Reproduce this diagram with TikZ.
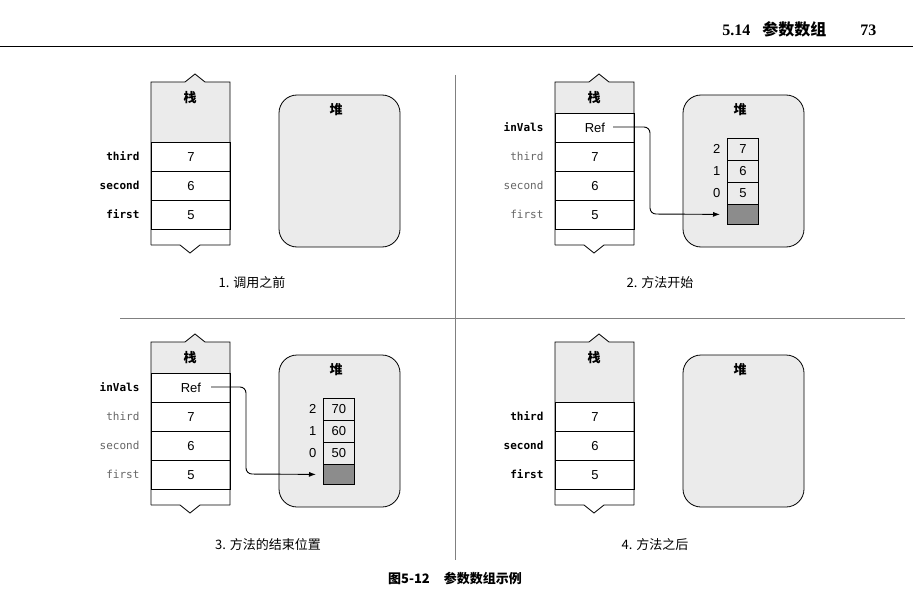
\documentclass[tikz,border=0pt]{standalone}
\usepackage{fontspec}
\setmainfont{Liberation Serif}
\setsansfont{Liberation Sans}
\setmonofont{DejaVu Sans Mono}
\newfontfamily\cjk{Noto Sans CJK SC}
\usetikzlibrary{arrows.meta}
\begin{document}
\begin{tikzpicture}[x=1pt,y=-1pt,
  cell/.style={draw,line width=0.8pt,minimum width=79pt,minimum height=29pt,inner sep=0pt,anchor=north west,font=\sffamily\fontsize{13}{13}\selectfont},
  arr/.style={draw,line width=0.8pt,minimum width=31pt,minimum height=22pt,inner sep=0pt,anchor=north west,font=\sffamily\fontsize{13}{13}\selectfont},
  lblb/.style={anchor=east,font=\ttfamily\bfseries\fontsize{11}{11}\selectfont},
  lblg/.style={anchor=east,text=black!60,font=\ttfamily\fontsize{11}{11}\selectfont},
  idx/.style={anchor=east,font=\sffamily\fontsize{13}{13}\selectfont},
  captxt/.style={font=\cjk\fontsize{13}{13}\selectfont},
  boldcjk/.style={font=\cjk\bfseries\fontsize{13}{13}\selectfont},
  heap/.style={draw,line width=0.8pt,fill=black!8,rounded corners=18pt},
  link/.style={draw,line width=0.9pt,rounded corners=6pt,-{Latex[length=7pt,width=5pt]}}]
\useasboundingbox (0,0) rectangle (913,615);
\fill[white] (0,0) rectangle (913,615);
% header
\node[anchor=base east,font=\bfseries\fontsize{16}{16}\selectfont] (hdr) at (830,36) {5.14\hspace{12pt}{\cjk\bfseries 参数数组}};
\node[anchor=base east,font=\bfseries\fontsize{16}{16}\selectfont] (pg) at (880,36) {73};
\draw[line width=1pt] (0,47) -- (913,47);
\draw[line width=0.4pt,black!50] (455,75) -- (455,560);
\draw[line width=0.4pt,black!50] (120,318) -- (905,318);
% panels
\foreach \dx/\dy/\p/\h in {0/0/1/142,404/0/2/113,0/260/3/113,404/260/4/142}{
  \begin{scope}[shift={(\dx,\dy)}]
    \fill[black!8] (151,82)--(185,82)--(195,74)--(205,82)--(230,82)--(230,\h)--(151,\h)--cycle;
    \draw[line width=0.8pt] (151,245)--(151,82)--(185,82)--(195,74)--(205,82)--(230,82)--(230,245);
    \draw[line width=0.8pt] (151,245)--(180,245)--(190,253)--(200,245)--(230,245);
    \node[boldcjk] (z\p) at (190,98) {栈};
    \draw[heap] (279,95) rectangle (400,247);
    \node[boldcjk] (d\p) at (336,110) {堆};
  \end{scope}
}
% panel 1
\node[cell] (a1) at (151,142) {7};
\node[cell] (b1) at (151,171) {6};
\node[cell] (c1) at (151,200) {5};
\draw[line width=0.8pt] (151,229) -- (230,229);
\node[lblb] at (143,156) {third};
\node[lblb] at (143,185) {second};
\node[lblb] at (143,214) {first};
% panel 4
\node[cell] (a4) at (555,402) {7};
\node[cell] (b4) at (555,431) {6};
\node[cell] (c4) at (555,460) {5};
\draw[line width=0.8pt] (555,489) -- (634,489);
\node[lblb] at (547,416) {third};
\node[lblb] at (547,445) {second};
\node[lblb] at (547,474) {first};
% panel 2
\node[cell] (r2) at (555,113) {Ref};
\node[cell] (a2) at (555,142) {7};
\node[cell] (b2) at (555,171) {6};
\node[cell] (c2) at (555,200) {5};
\draw[line width=0.8pt] (555,229) -- (634,229);
\node[lblb] at (547,127) {inVals};
\node[lblg] at (547,156) {third};
\node[lblg] at (547,185) {second};
\node[lblg] at (547,214) {first};
\node[arr] (e2) at (727,138) {7};
\node[arr] (f2) at (727,160) {6};
\node[arr] (g2) at (727,182) {5};
\node[arr,fill=black!45,minimum height=20pt] (h2) at (727,204) {};
\node[idx] at (724,149) {2};
\node[idx] at (724,171) {1};
\node[idx] at (724,193) {0};
\coordinate (s2) at (613,127);
\draw[link] (s2) -- (650,127) -- (650,214) -- ([xshift=-7pt]h2.west);
% panel 3
\node[cell] (r3) at (151,373) {Ref};
\node[cell] (a3) at (151,402) {7};
\node[cell] (b3) at (151,431) {6};
\node[cell] (c3) at (151,460) {5};
\draw[line width=0.8pt] (151,489) -- (230,489);
\node[lblb] at (143,387) {inVals};
\node[lblg] at (143,416) {third};
\node[lblg] at (143,445) {second};
\node[lblg] at (143,474) {first};
\node[arr] (e3) at (323,398) {70};
\node[arr] (f3) at (323,420) {60};
\node[arr] (g3) at (323,442) {50};
\node[arr,fill=black!45,minimum height=20pt] (h3) at (323,464) {};
\node[idx] at (320,409) {2};
\node[idx] at (320,431) {1};
\node[idx] at (320,453) {0};
\coordinate (s3) at (211,387);
\draw[link] (s3) -- (246,387) -- (246,474) -- ([xshift=-7pt]h3.west);
% captions
\node[captxt] (k1) at (252,283) {1. 调用之前};
\node[captxt] (k2) at (660,283) {2. 方法开始};
\node[captxt] (k3) at (268,545) {3. 方法的结束位置};
\node[captxt] (k4) at (655,545) {4. 方法之后};
\node[boldcjk] (fig) at (455,578) {图5-12\hspace{14pt}参数数组示例};
\end{tikzpicture}
\end{document}
